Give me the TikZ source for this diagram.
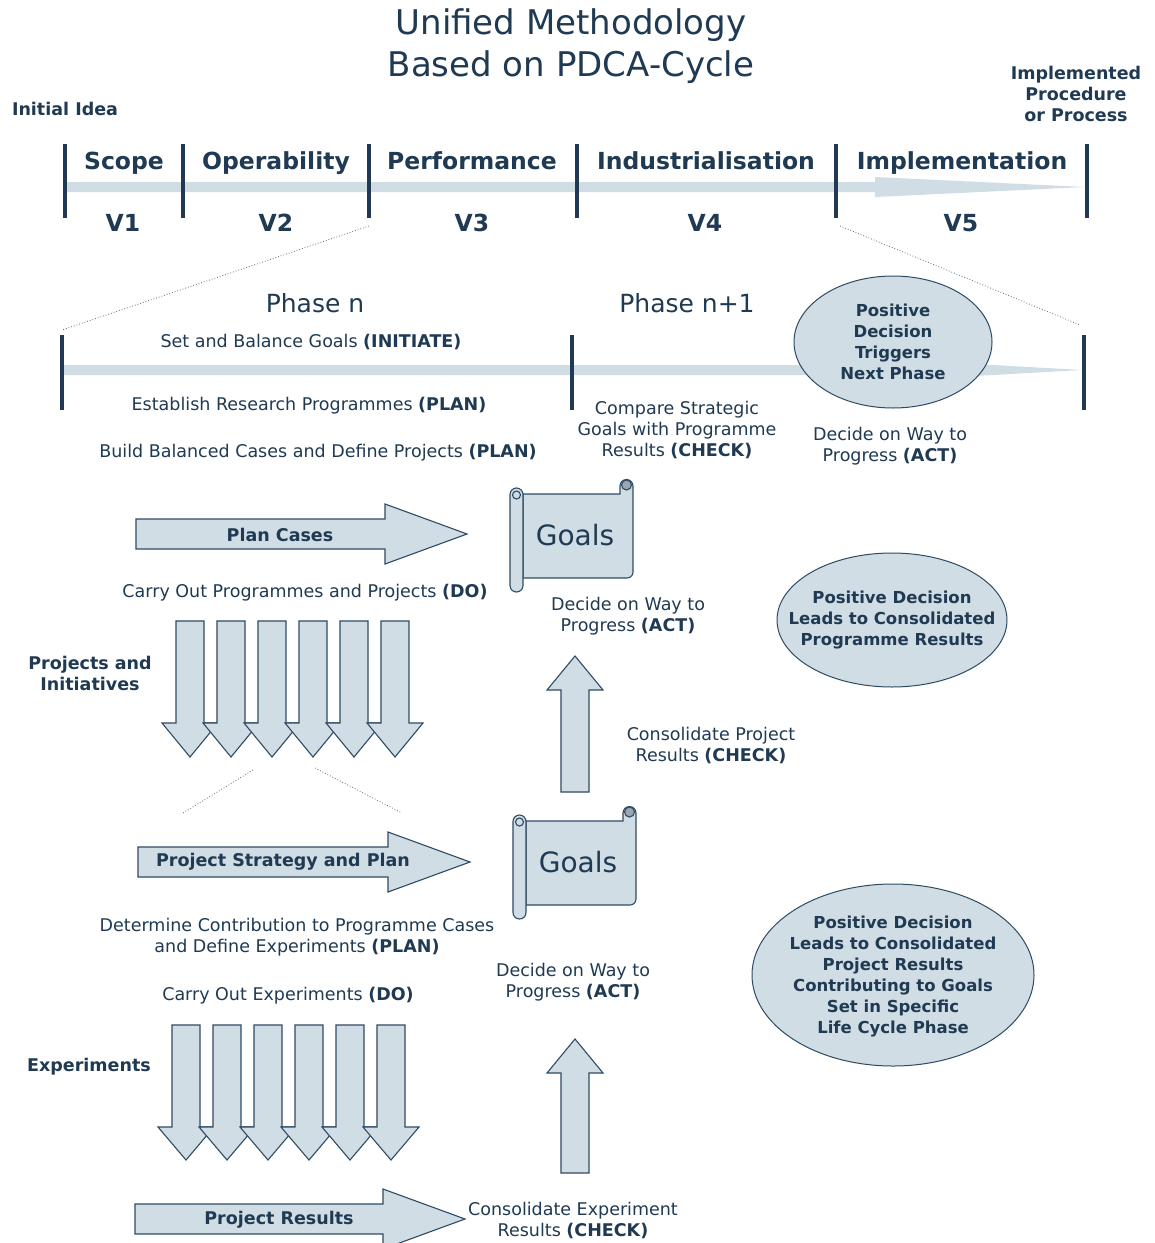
\documentclass[tikz,border=0pt]{standalone}
\usepackage{fontspec}
\setmainfont{DejaVu Sans}

\definecolor{ink}{HTML}{1F3A52}
\definecolor{fillc}{HTML}{D0DDE5}
\definecolor{edge}{HTML}{2F4B63}
\definecolor{curlc}{HTML}{9AA6B0}
\definecolor{zoomc}{HTML}{5A6E80}

% right-pointing block arrow: x start, x head base, x tip, y centre, half body, half head
\newcommand\RBlockArrow[6]{%
  \draw[blockarrow] (#1,#4-#5) -- (#2,#4-#5) -- (#2,#4-#6) -- (#3,#4)
    -- (#2,#4+#6) -- (#2,#4+#5) -- (#1,#4+#5) -- cycle;}
% vertical block arrow: x centre, y tail, y head base, y tip, half body, half head
\newcommand\VBlockArrow[6]{%
  \draw[blockarrow] (#1-#5,#2) -- (#1+#5,#2) -- (#1+#5,#3) -- (#1+#6,#3)
    -- (#1,#4) -- (#1-#6,#3) -- (#1-#5,#3) -- cycle;}
% scroll shape holding the goals, shifted by (#1,#2)
\newcommand\GoalScroll[2]{%
  \begin{scope}[shift={(#1,#2)}]
    \draw[scrollline, fill=fillc] (523,494) -- (620,494) -- (620,486)
      arc[start angle=180, end angle=360, radius=6.5] -- (633,572)
      arc[start angle=0, end angle=90, radius=6] -- (523,578) -- cycle;
    \draw[scrollline, fill=curlc] (626.5,485) circle[radius=5];
    \draw[scrollline, fill=fillc, rounded corners=6.5] (510,488) rectangle (523,592);
    \draw[scrollline, fill=fillc] (516.5,495) circle[radius=4];
  \end{scope}}

\begin{document}
\begin{tikzpicture}[x=1pt, y=-1pt,
  txt/.style={text=ink, align=center, inner sep=0pt, font=\fontsize{17.5}{21}\selectfont},
  bold/.style={txt, font=\bfseries\fontsize{17.5}{21}\selectfont},
  stage/.style={txt, anchor=base, font=\bfseries\fontsize{23.5}{28}\selectfont},
  phasetxt/.style={txt, font=\fontsize{25}{30}\selectfont},
  goalstxt/.style={txt, font=\fontsize{28}{32}\selectfont},
  decisionshape/.style={draw=edge, line width=1pt, fill=fillc},
  decision/.style={txt, font=\bfseries\fontsize{16.5}{21}\selectfont},
  blockarrow/.style={draw=edge, line width=1.1pt, fill=fillc, line join=miter},
  tick/.style={draw=ink, line width=4pt},
  zoomline/.style={draw=zoomc, dotted, line width=0.8pt},
  scrollline/.style={draw=edge, line width=1.1pt}]

\clip (0,0) rectangle (1155,1243);
\fill[white] (0,0) rectangle (1155,1243);

% title
\node[txt, font=\fontsize{34}{42}\selectfont] (title) at (571,46)
  {Unified Methodology\\Based on PDCA-Cycle};

% life-cycle timeline
\node[bold] (initial) at (65,109) {Initial Idea};
\node[bold] (implemented) at (1076,94) {Implemented\\Procedure\\or Process};
\fill[fillc] (65,182) -- (875,182) -- (875,177) -- (1085,187) -- (875,197)
  -- (875,192) -- (65,192) -- cycle;
\foreach \x/\n in {65/a,183/b,369/c,577/d,836/e,1087/f}{
  \coordinate (lt\n) at (\x,144);
  \coordinate (lb\n) at (\x,218);
  \draw[tick] (lt\n) -- (lb\n);
}
\node[stage] (scope) at (124,169) {Scope};
\node[stage] (oper) at (276,169) {Operability};
\node[stage] (perf) at (472,169) {Performance};
\node[stage] (indu) at (706,169) {Industrialisation};
\node[stage] (impl) at (962,169) {Implementation};
\node[stage] (v1) at (123,231) {V1};
\node[stage] (v2) at (276,231) {V2};
\node[stage] (v3) at (472,231) {V3};
\node[stage] (v4) at (705,231) {V4};
\node[stage] (v5) at (961,231) {V5};

% phase timeline
\fill[fillc] (62,365) -- (957,365) -- (957,363) -- (1082,370) -- (957,377)
  -- (957,375) -- (62,375) -- cycle;
\foreach \x/\n in {62/a,572/b,1084/c}{
  \coordinate (pt\n) at (\x,335);
  \coordinate (pb\n) at (\x,410);
  \draw[tick] (pt\n) -- (pb\n);
}
\coordinate (za) at (369,226);
\coordinate (zb) at (62,330);
\coordinate (zc) at (840,226);
\coordinate (zd) at (1080,325);
\draw[zoomline] (za) -- (zb);
\draw[zoomline] (zc) -- (zd);

\node[phasetxt] (phasen) at (315,303) {Phase n};
\node[phasetxt] (phasen1) at (687,303) {Phase n+1};
\node[txt] (initiate) at (311,342) {Set and Balance Goals \textbf{(INITIATE)}};
\node[txt] (establish) at (309,406) {Establish Research Programmes \textbf{(PLAN)}};
\node[txt] (build) at (318,453) {Build Balanced Cases and Define Projects \textbf{(PLAN)}};
\node[txt] (compare) at (677,430) {Compare Strategic\\Goals with Programme\\Results \textbf{(CHECK)}};
\draw[decisionshape] (893,342) ellipse[x radius=99, y radius=66];
\node[decision] (nextphase) at (893,342) {Positive\\Decision\\Triggers\\Next Phase};
\node[txt] (actA) at (890,446) {Decide on Way to\\Progress \textbf{(ACT)}};

% programme level
\RBlockArrow{136}{385}{467}{534}{15}{30}
\node[bold] (plancases) at (280,535) {Plan Cases};
\GoalScroll{0}{0}
\node[goalstxt] (goalsA) at (575,535) {Goals};
\node[txt] (carryA) at (305,593) {Carry Out Programmes and Projects \textbf{(DO)}};
\node[txt] (actB) at (628,616) {Decide on Way to\\Progress \textbf{(ACT)}};
\node[bold] (projects) at (90,673) {Projects and\\Initiatives};
\foreach \k in {0,...,5}{
  \VBlockArrow{190+41*\k}{621}{723}{757}{14}{28}
}
\VBlockArrow{575}{792}{690}{656}{14}{28}
\node[txt] (checkA) at (711,745) {Consolidate Project\\Results \textbf{(CHECK)}};
\draw[decisionshape] (892,620) ellipse[x radius=115, y radius=67];
\node[decision] (consprog) at (892,620)
  {Positive Decision\\Leads to Consolidated\\Programme Results};

\coordinate (zf) at (253,770);
\coordinate (zg) at (183,813);
\coordinate (zh) at (315,768);
\coordinate (zi) at (402,813);
\draw[zoomline] (zf) -- (zg);
\draw[zoomline] (zh) -- (zi);

% project level
\RBlockArrow{138}{388}{470}{862}{15}{30}
\node[bold] (strategy) at (283,862) {Project Strategy and Plan};
\GoalScroll{3}{327}
\node[goalstxt] (goalsB) at (578,862) {Goals};
\node[txt] (determine) at (297,937) {Determine Contribution to Programme Cases\\and Define Experiments \textbf{(PLAN)}};
\node[txt] (actC) at (573,982) {Decide on Way to\\Progress \textbf{(ACT)}};
\node[txt] (carryB) at (288,996) {Carry Out Experiments \textbf{(DO)}};
\node[bold] (experiments) at (89,1067) {Experiments};
\foreach \k in {0,...,5}{
  \VBlockArrow{186+41*\k}{1025}{1127}{1160}{14}{28}
}
\VBlockArrow{575}{1173}{1073}{1039}{14}{28}
\draw[decisionshape] (893,975) ellipse[x radius=141, y radius=91];
\node[decision] (consproj) at (893,976)
  {Positive Decision\\Leads to Consolidated\\Project Results\\Contributing to Goals\\Set in Specific\\Life Cycle Phase};
\RBlockArrow{135}{383}{465}{1219}{15}{30}
\node[bold] (results) at (279,1220) {Project Results};
\node[txt] (checkB) at (573,1220) {Consolidate Experiment\\Results \textbf{(CHECK)}};

\end{tikzpicture}
\end{document}
